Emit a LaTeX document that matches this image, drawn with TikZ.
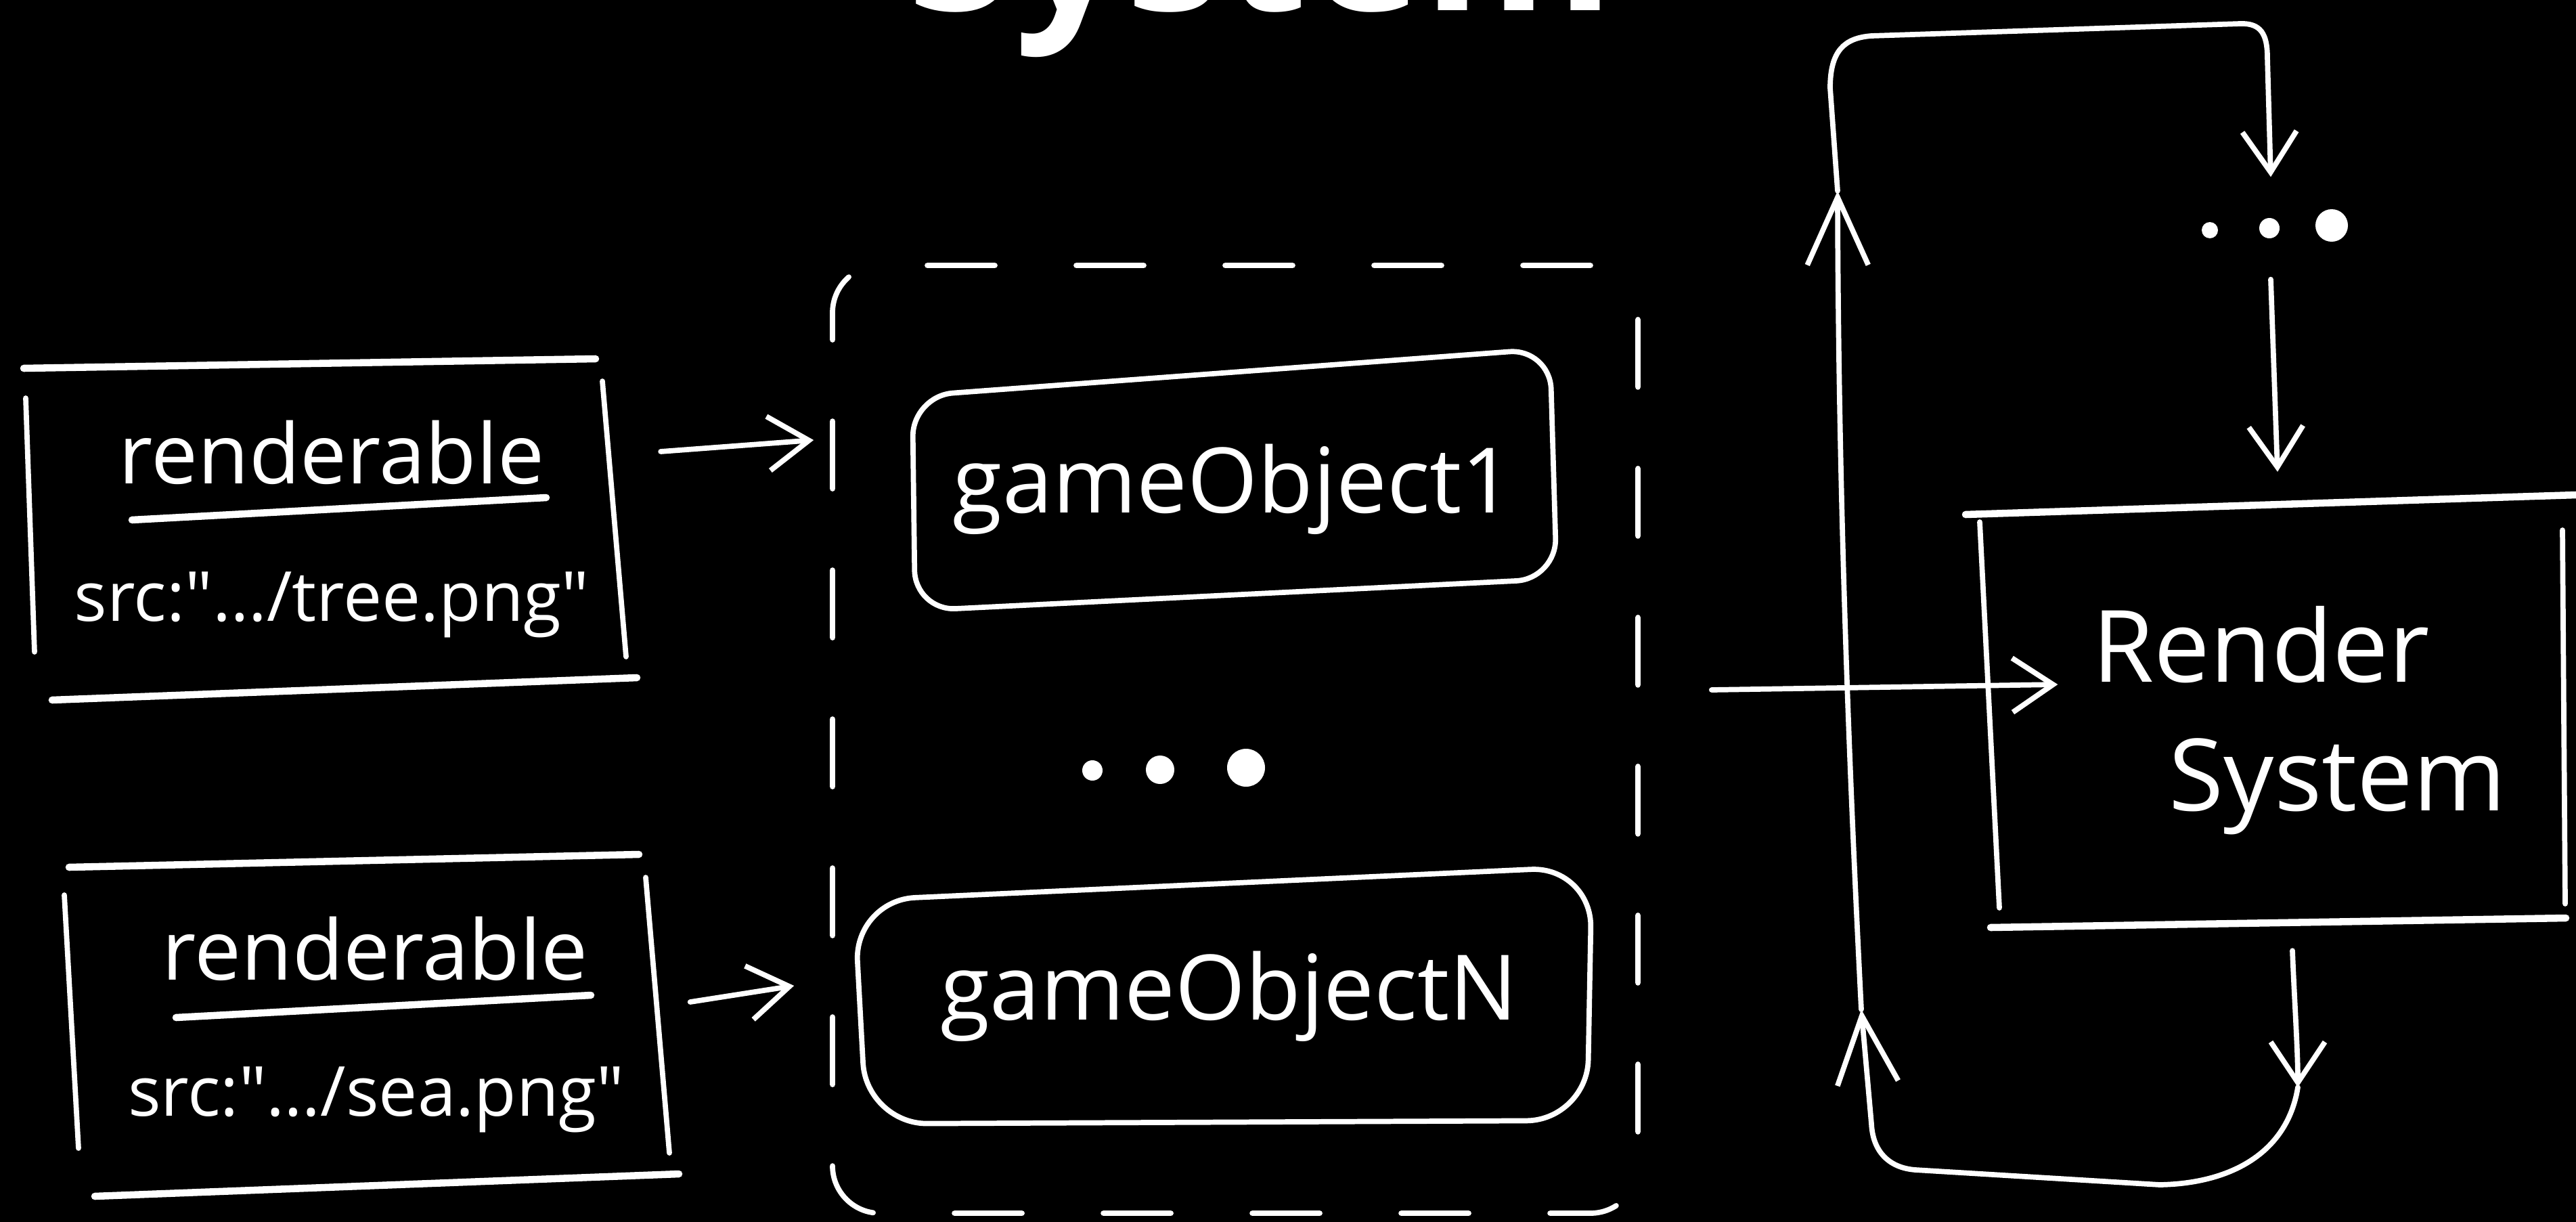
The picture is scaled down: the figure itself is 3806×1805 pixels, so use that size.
\documentclass[tikz,border=0pt]{standalone}
\usepackage{fontspec}
\setmainfont{Open Sans}[Ligatures=TeXOff]
\usetikzlibrary{arrows.meta,positioning}
\tikzset{
  hand/.style={draw=white,line width=2.2pt,line cap=round,line join=round},
  heavy/.style={hand,line width=3pt},
  arr/.style={hand,-{Straight Barb[length=6mm,width=8mm]}},
  bigarr/.style={hand,-{Straight Barb[length=10mm,width=9mm]}},
  sketchbox/.style={draw=none,inner sep=0pt},
  dashbox/.style={hand,dash pattern=on 10mm off 12mm,rounded corners=7mm,inner sep=0pt},
  hw/.style={text=white,inner sep=0pt,anchor=base}
}

\begin{document}
\begin{tikzpicture}[x=0.1mm,y=-0.1mm]
\fill[black] (0,0) rectangle (3806,1805);
\useasboundingbox (0,0) rectangle (3806,1805);

% heading, cut off at the top edge
\node[hw,anchor=base west,font=\fontsize{82}{90}\selectfont\bfseries] (title) at (1340,15) {System};

% renderable components
\node[sketchbox,minimum width=90.9mm,minimum height=50.4mm] (rend1) at (486,782) {};
\node[hw,font=\fontsize{35}{40}\selectfont] (rend1name) at (490,714) {renderable};
\node[hw,font=\fontsize{29}{34}\selectfont] (rend1src) at (490,917) {src:"…/tree.png"};
\draw[heavy] (35,544) -- (880,530);
\draw[hand] (38,588) -- (51,963);
\draw[hand] (890,563) -- (925,970);
\draw[heavy] (77,1034) -- (941,1001);
\draw[heavy] (195,768) -- (807,735);

\node[sketchbox,minimum width=90.8mm,minimum height=50.5mm] (rend2) at (549,1514) {};
\node[hw,font=\fontsize{35}{40}\selectfont] (rend2name) at (554,1447) {renderable};
\node[hw,font=\fontsize{29}{34}\selectfont] (rend2src) at (556,1648) {src:"…/sea.png"};
\draw[heavy] (102,1281) -- (944,1262);
\draw[hand] (95,1322) -- (116,1696);
\draw[hand] (954,1296) -- (989,1703);
\draw[heavy] (140,1767) -- (1003,1734);
\draw[heavy] (260,1503) -- (873,1470);

% game objects
\node[dashbox,minimum width=119mm,minimum height=140mm] (objs) at (1825,1092) {};
\draw[hand,rounded corners=6mm] (1348,585) -- (2290,515) -- (2300,855) -- (1352,902) -- cycle;
\node[hw,font=\fontsize{38}{44}\selectfont] (obj1) at (1822,757) {gameObject1};
\fill[white] (1614,1138) circle (1.5mm) (1714,1137) circle (2.1mm) (1841,1134) circle (2.8mm);
\draw[hand,rounded corners=9mm] (1262,1330) -- (2352,1280) -- (2345,1655) -- (1280,1660) -- cycle;
\node[hw,font=\fontsize{38}{44}\selectfont] (objN) at (1816,1506) {gameObjectN};

% render system
\node[sketchbox,minimum width=87mm,minimum height=63.9mm] (rsys) at (3360,1050) {};
\node[hw,anchor=base west,font=\fontsize{42}{50}\selectfont] (rsysname) at (3091,1007) {Render};
\node[hw,anchor=base west,font=\fontsize{42}{50}\selectfont] (rsysname2) at (3204,1197) {System};
\draw[heavy] (2904,760) -- (3806,731);
\draw[hand] (2925,771) -- (2954,1341);
\draw[hand] (3786,783) -- (3790,1335);
\draw[heavy] (2941,1370) -- (3791,1356);

\node[inner sep=0pt,minimum width=20mm,minimum height=15mm] (more) at (3355,337) {};
\fill[white] (3265,340) circle (1.2mm) (3353,337) circle (1.5mm) (3445,333) circle (2.4mm);

% connectors
\draw[arr] ([shift={(35,-115)}]rend1.east) -- ([shift={(-24,-442)}]objs.west);
\draw[arr] ([shift={(16,-34)}]rend2.east) -- ([shift={(-53,364)}]objs.west);
\draw[arr] ([shift={(105,-73)}]objs.east) -- ([shift={(116,-39)}]rsys.west);
\draw[arr] (more.south) -- ([shift={(5,-33)}]rsys.north);

% the loop
\coordinate (loopA) at (3395,1606);
\coordinate (loopB) at (2750,1491);
\coordinate (loopC) at (2715,282);
\draw[arr] ([shift={(27,34)}]rsys.south) .. controls (3390,1480) and (3395,1550) .. (loopA);
\draw[bigarr] (loopA) .. controls (3380,1700) and (3300,1748) .. (3191,1750) -- (2830,1728)
  .. controls (2790,1725) and (2767,1700) .. (2765,1660) -- (loopB);
\draw[bigarr] (loopB) .. controls (2730,1100) and (2716,700) .. (loopC);
\draw[arr] (loopC) -- (2704,130) .. controls (2704,75) and (2725,56) .. (2765,53) -- (3310,35)
  .. controls (3340,34) and (3350,50) .. (3350,85) -- (more.north);
\end{tikzpicture}
\end{document}
